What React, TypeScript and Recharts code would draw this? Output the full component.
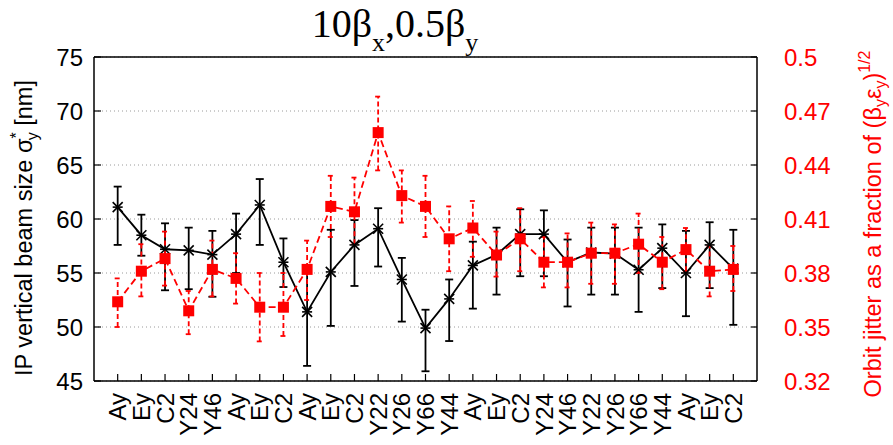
import {
  CartesianGrid,
  ComposedChart,
  ErrorBar,
  Line,
  ReferenceLine,
  XAxis,
  YAxis,
} from "recharts";

// BPM / magnet groups along the beamline, in scan order
const categories = [
  "Ay", "Ey", "C2", "Y24", "Y46", "Ay", "Ey", "C2", "Ay", "Ey", "C2",
  "Y22", "Y26", "Y66", "Y44", "Ay", "Ey", "C2", "Y24", "Y46", "Y22",
  "Y26", "Y66", "Y44", "Ay", "Ey", "C2",
];

// IP vertical beam size σy* [nm] and the ends of its error bar
const sizeValues = [
  61.1, 58.5, 57.2, 57.1, 56.7, 58.6, 61.3, 56.0, 51.4, 55.1, 57.6,
  59.1, 54.4, 49.9, 52.6, 55.7, 56.7, 58.6, 58.6, 56.0, 56.9,
  56.8, 55.3, 57.3, 55.0, 57.6, 55.4,
];
const sizeLow = [
  57.6, 56.6, 53.4, 53.5, 52.8, 55.0, 57.6, 53.7, 46.4, 50.1, 53.8,
  55.6, 50.5, 45.9, 48.7, 51.7, 53.0, 54.7, 54.7, 51.9, 53.0,
  53.0, 51.4, 53.6, 51.0, 53.6, 50.2,
];
const sizeHigh = [
  63.0, 60.4, 59.6, 59.2, 58.9, 60.5, 63.7, 58.2, 55.3, 59.0, 59.9,
  61.0, 56.4, 51.6, 54.4, 57.9, 59.2, 60.9, 60.8, 58.1, 59.2,
  59.2, 59.2, 59.5, 58.9, 59.7, 59.0,
];

// orbit jitter as a fraction of sqrt(βy εy), with error bar ends
const jitterValues = [
  0.364, 0.381, 0.388, 0.359, 0.382, 0.377, 0.361, 0.361, 0.382, 0.417, 0.414,
  0.458, 0.423, 0.417, 0.399, 0.405, 0.390, 0.399, 0.386, 0.386, 0.391,
  0.391, 0.396, 0.386, 0.393, 0.381, 0.382,
];
const jitterLow = [
  0.350, 0.367, 0.373, 0.346, 0.367, 0.363, 0.342, 0.345, 0.365, 0.400, 0.396,
  0.437, 0.408, 0.400, 0.381, 0.389, 0.378, 0.381, 0.372, 0.372, 0.374,
  0.374, 0.380, 0.371, 0.381, 0.367, 0.370,
];
const jitterHigh = [
  0.377, 0.396, 0.403, 0.370, 0.398, 0.391, 0.380, 0.380, 0.398, 0.434, 0.433,
  0.478, 0.437, 0.434, 0.417, 0.420, 0.403, 0.416, 0.400, 0.402, 0.408,
  0.407, 0.413, 0.400, 0.405, 0.395, 0.395,
];

const sizeTicks = [45, 50, 55, 60, 65, 70, 75];
const jitterTicks = [0.32, 0.35, 0.38, 0.41, 0.44, 0.47, 0.5];
const positions = categories.map((_, i) => i + 1);

const RED = "#ff0000";
const SANS = "'Liberation Sans', Arial, sans-serif";

const data = categories.map((name, i) => ({
  x: i + 1,
  name,
  size: sizeValues[i],
  sizeErr: [sizeValues[i] - sizeLow[i], sizeHigh[i] - sizeValues[i]],
  jitter: jitterValues[i],
  jitterErr: [jitterValues[i] - jitterLow[i], jitterHigh[i] - jitterValues[i]],
}));

// gnuplot-style "*" marker
function StarDot(props: any) {
  const { cx, cy } = props;
  if (cx == null || cy == null) return null;
  const r = 5;
  return (
    <g key={`star-${props.index}`} stroke="#000" strokeWidth={1.6}>
      <line x1={cx - r} y1={cy} x2={cx + r} y2={cy} />
      <line x1={cx - r} y1={cy - r} x2={cx + r} y2={cy + r} />
      <line x1={cx - r} y1={cy + r} x2={cx + r} y2={cy - r} />
    </g>
  );
}

function SquareDot(props: any) {
  const { cx, cy } = props;
  if (cx == null || cy == null) return null;
  const s = 11;
  return (
    <rect
      key={`sq-${props.index}`}
      x={cx - s / 2}
      y={cy - s / 2}
      width={s}
      height={s}
      fill={RED}
    />
  );
}

function CategoryTick(props: any) {
  const { x, y, payload } = props;
  return (
    <text
      x={x}
      y={y}
      transform={`rotate(-90, ${x}, ${y})`}
      textAnchor="end"
      dy="0.36em"
      fontFamily={SANS}
      fontSize={24}
      fill="#000"
    >
      {categories[payload.value - 1]}
    </text>
  );
}

export default function App() {
  return (
    <div style={{ position: "absolute", left: 0, top: 0, width: 893, height: 445, background: "#fff", overflow: "hidden" }}>
      <ComposedChart
        width={893}
        height={445}
        data={data}
        margin={{ top: 57, right: 0, bottom: 0, left: 0 }}
      >
        <CartesianGrid
          yAxisId="left"
          vertical={false}
          stroke="#9a9a9a"
          strokeDasharray="1 3"
        />
        <XAxis
          type="number"
          dataKey="x"
          domain={[0, 28]}
          ticks={positions}
          interval={0}
          height={64}
          tickSize={-7}
          tickMargin={19}
          tick={<CategoryTick />}
          axisLine={{ stroke: "#000", strokeWidth: 1.5 }}
          tickLine={{ stroke: "#000", strokeWidth: 1.2 }}
        />
        <YAxis
          yAxisId="left"
          domain={[45, 75]}
          ticks={sizeTicks}
          interval={0}
          width={94}
          tickSize={-7}
          tickMargin={18}
          axisLine={{ stroke: "#000", strokeWidth: 1.5 }}
          tickLine={{ stroke: "#000", strokeWidth: 1.2 }}
          tick={{ fill: "#000", fontSize: 24, fontFamily: SANS }}
        />
        <YAxis
          yAxisId="right"
          orientation="right"
          domain={[0.32, 0.5]}
          ticks={jitterTicks}
          interval={0}
          width={136}
          tickSize={-6}
          tickMargin={33}
          axisLine={{ stroke: "#000", strokeWidth: 1.5 }}
          tickLine={{ stroke: "#000", strokeWidth: 1.2 }}
          tick={{ fill: RED, fontSize: 24, fontFamily: SANS }}
        />
        <ReferenceLine yAxisId="left" y={75} stroke="#000" strokeWidth={1.5} />
        <Line
          yAxisId="left"
          dataKey="size"
          stroke="#000"
          strokeWidth={1.8}
          dot={StarDot}
          activeDot={false}
          isAnimationActive={false}
        >
          <ErrorBar dataKey="sizeErr" direction="y" width={4} stroke="#000" strokeWidth={1.8} />
        </Line>
        <Line
          yAxisId="right"
          dataKey="jitter"
          stroke={RED}
          strokeWidth={1.8}
          strokeDasharray="7 4"
          dot={SquareDot}
          activeDot={false}
          isAnimationActive={false}
        >
          <ErrorBar
            dataKey="jitterErr"
            direction="y"
            width={3}
            stroke={RED}
            strokeWidth={1.8}
            strokeDasharray="5 3"
          />
        </Line>
      </ComposedChart>

      <svg
        width={893}
        height={445}
        style={{ position: "absolute", left: 0, top: 0, pointerEvents: "none" }}
      >
        <text
          x={395}
          y={37}
          textAnchor="middle"
          fontFamily="'Liberation Serif', 'Times New Roman', serif"
          fontSize={40}
          fill="#000"
        >
          10β<tspan fontSize={26} dy={14}>x</tspan>
          <tspan dy={-14}>,0.5β</tspan>
          <tspan fontSize={26} dy={14}>y</tspan>
        </text>
        <text
          transform="translate(32, 228) rotate(-90)"
          textAnchor="middle"
          fontFamily={SANS}
          fontSize={23.5}
          fill="#000"
        >
          IP vertical beam size σ
          <tspan fontSize={16} dy={-10}>*</tspan>
          <tspan fontSize={16} dx={-8} dy={16}>y</tspan>
          <tspan dy={-6}> [nm]</tspan>
        </text>
        <text
          transform="translate(881, 224) rotate(-90)"
          textAnchor="middle"
          fontFamily={SANS}
          fontSize={23.5}
          fill={RED}
        >
          Orbit jitter as a fraction of (β
          <tspan fontSize={16} dy={5}>y</tspan>
          <tspan dy={-5}>ε</tspan>
          <tspan fontSize={16} dy={5}>y</tspan>
          <tspan dy={-5}>)</tspan>
          <tspan fontSize={16} dy={-11}>1/2</tspan>
        </text>
      </svg>
    </div>
  );
}
